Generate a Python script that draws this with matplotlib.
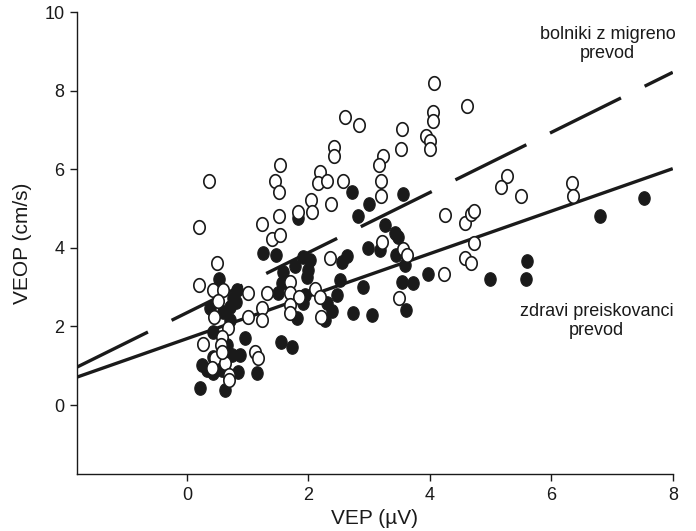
import numpy as np
import matplotlib
matplotlib.use('Agg')
import matplotlib.pyplot as plt
from matplotlib.path import Path

plt.rcParams['font.family'] = ['Liberation Sans', 'DejaVu Sans']
plt.rcParams['lines.scale_dashes'] = False

# bolniki z migreno (prazni krogi)
migrena_x = [4.07, 4.05, 4.05, 4.61, 2.60, 2.83, 3.54, 3.52, 3.93, 4.00, 4.00, 2.42, 2.42,
             3.23, 3.16, 1.53, 1.45, 1.51, 2.19, 2.16, 2.30, 2.57, 3.19, 3.19, 2.37, 2.04,
             2.06, 1.83, 1.51, 1.23, 1.40, 1.53, 4.25, 4.58, 4.67, 4.72, 3.21, 3.56, 3.62,
             4.72, 4.58, 4.67, 4.23, 3.49, 2.35, 1.70, 2.11, 1.70, 1.84, 2.19, 1.70, 1.70,
             2.21, 1.23, 1.23, 1.32, 1.00, 1.00, 0.20, 0.36, 0.49, 0.20, 0.43, 0.59, 0.51,
             0.44, 0.67, 0.58, 0.26, 0.56, 0.46, 0.63, 0.41, 0.69, 0.69, 1.12, 1.17, 5.27,
             5.17, 5.50, 6.34, 6.35, 0.58]
migrena_y = [8.21, 7.45, 7.24, 7.60, 7.32, 7.12, 7.02, 6.51, 6.84, 6.71, 6.51, 6.56, 6.33,
             6.33, 6.12, 6.12, 5.71, 5.43, 5.94, 5.64, 5.71, 5.71, 5.71, 5.31, 5.13, 5.23,
             4.92, 4.92, 4.82, 4.62, 4.23, 4.34, 4.85, 4.64, 4.87, 4.95, 4.16, 3.98, 3.83,
             4.13, 3.75, 3.62, 3.34, 2.73, 3.75, 3.14, 2.96, 2.86, 2.76, 2.76, 2.55, 2.35,
             2.24, 2.47, 2.17, 2.86, 2.86, 2.24, 4.54, 5.71, 3.62, 3.06, 2.93, 2.93, 2.65,
             2.24, 1.96, 1.73, 1.56, 1.53, 1.20, 1.07, 0.94, 0.77, 0.64, 1.35, 1.20, 5.82,
             5.54, 5.31, 5.64, 5.31, 1.36]

# zdravi preiskovanci (polni krogi)
zdravi_x = [0.53, 0.82, 0.76, 0.71, 0.59, 0.38, 0.43, 0.71, 0.95, 1.25, 1.47, 1.58, 1.50,
            1.55, 1.73, 0.25, 0.74, 0.87, 0.43, 0.58, 0.84, 1.15, 0.21, 0.63, 0.66, 0.33,
            1.81, 0.81, 0.43, 1.91, 2.02, 1.78, 1.99, 1.98, 2.52, 2.47, 2.30, 2.39, 2.73,
            2.27, 2.72, 3.00, 2.81, 3.56, 3.26, 3.42, 3.47, 2.98, 3.18, 3.44, 3.59, 2.63,
            2.55, 2.90, 3.54, 3.72, 3.05, 3.60, 1.83, 1.94, 1.91, 3.97, 4.99, 5.60, 5.58,
            6.80, 7.52, 1.56]
zdravi_y = [3.21, 2.93, 2.73, 2.50, 2.37, 2.47, 1.86, 2.17, 1.71, 3.88, 3.83, 3.39, 2.86,
            1.61, 1.48, 1.02, 1.28, 1.28, 0.82, 0.89, 0.84, 0.82, 0.43, 0.38, 1.53, 0.89,
            2.22, 2.63, 1.22, 3.78, 3.70, 3.55, 3.44, 3.27, 3.19, 2.81, 2.60, 2.40, 2.35,
            2.17, 5.43, 5.13, 4.82, 5.38, 4.59, 4.39, 4.29, 4.01, 3.95, 3.83, 3.57, 3.80,
            3.65, 3.01, 3.14, 3.11, 2.30, 2.42, 4.77, 2.81, 2.60, 3.34, 3.21, 3.67, 3.21,
            4.80, 5.28, 3.11]

# regresijski premici (presecisce, naklon)
migrena_fit = (2.35, 0.765)
zdravi_fit = (1.69, 0.541)

# malo ovalen krog, kot v izvirniku
t = np.linspace(0, 2 * np.pi, 61)
oval = Path(np.column_stack([0.84 * np.cos(t), np.sin(t)]), closed=True)

fig = plt.figure(figsize=(6.96, 5.31), dpi=100)
ax = fig.add_axes([0.1106, 0.107, 0.856, 0.870])

xlim = (-1.81, 8)
xs = np.array(xlim)
ax.plot(xs, migrena_fit[0] + migrena_fit[1] * xs, color='#1a1a1a', lw=2.4,
        dashes=(57, 19), solid_capstyle='butt', dash_capstyle='butt', zorder=1)
ax.plot(xs, zdravi_fit[0] + zdravi_fit[1] * xs, color='#1a1a1a', lw=2.4,
        solid_capstyle='butt', zorder=1)

ax.scatter(zdravi_x, zdravi_y, marker=oval, s=95, facecolor='#1a1a1a',
           edgecolor='#1a1a1a', linewidths=0.8, zorder=2)
ax.scatter(migrena_x, migrena_y, marker=oval, s=95, facecolor='white',
           edgecolor='#1a1a1a', linewidths=1.2, zorder=3)

ax.set_xlim(*xlim)
ax.set_ylim(-1.76, 10)
ax.set_xticks([0, 2, 4, 6, 8])
ax.set_yticks([0, 2, 4, 6, 8, 10])
for s in ['top', 'right']:
    ax.spines[s].set_visible(False)
for s in ['left', 'bottom']:
    ax.spines[s].set_linewidth(1.0)
    ax.spines[s].set_color('#1a1a1a')
ax.tick_params(direction='out', length=5, width=1.0, labelsize=13, colors='#1a1a1a', pad=4)

ax.set_xlabel('VEP (µV)', fontsize=15, color='#1a1a1a', labelpad=4)
ax.set_ylabel('VEOP (cm/s)', fontsize=15, color='#1a1a1a', labelpad=9)

ax.text(6.93, 9.18, 'bolniki z migreno\nprevod', ha='center', va='center',
        fontsize=13, color='#1a1a1a', linespacing=1.15)
ax.text(6.75, 2.14, 'zdravi preiskovanci\nprevod', ha='center', va='center',
        fontsize=13, color='#1a1a1a', linespacing=1.15)

fig.savefig('out.png', dpi=100)
